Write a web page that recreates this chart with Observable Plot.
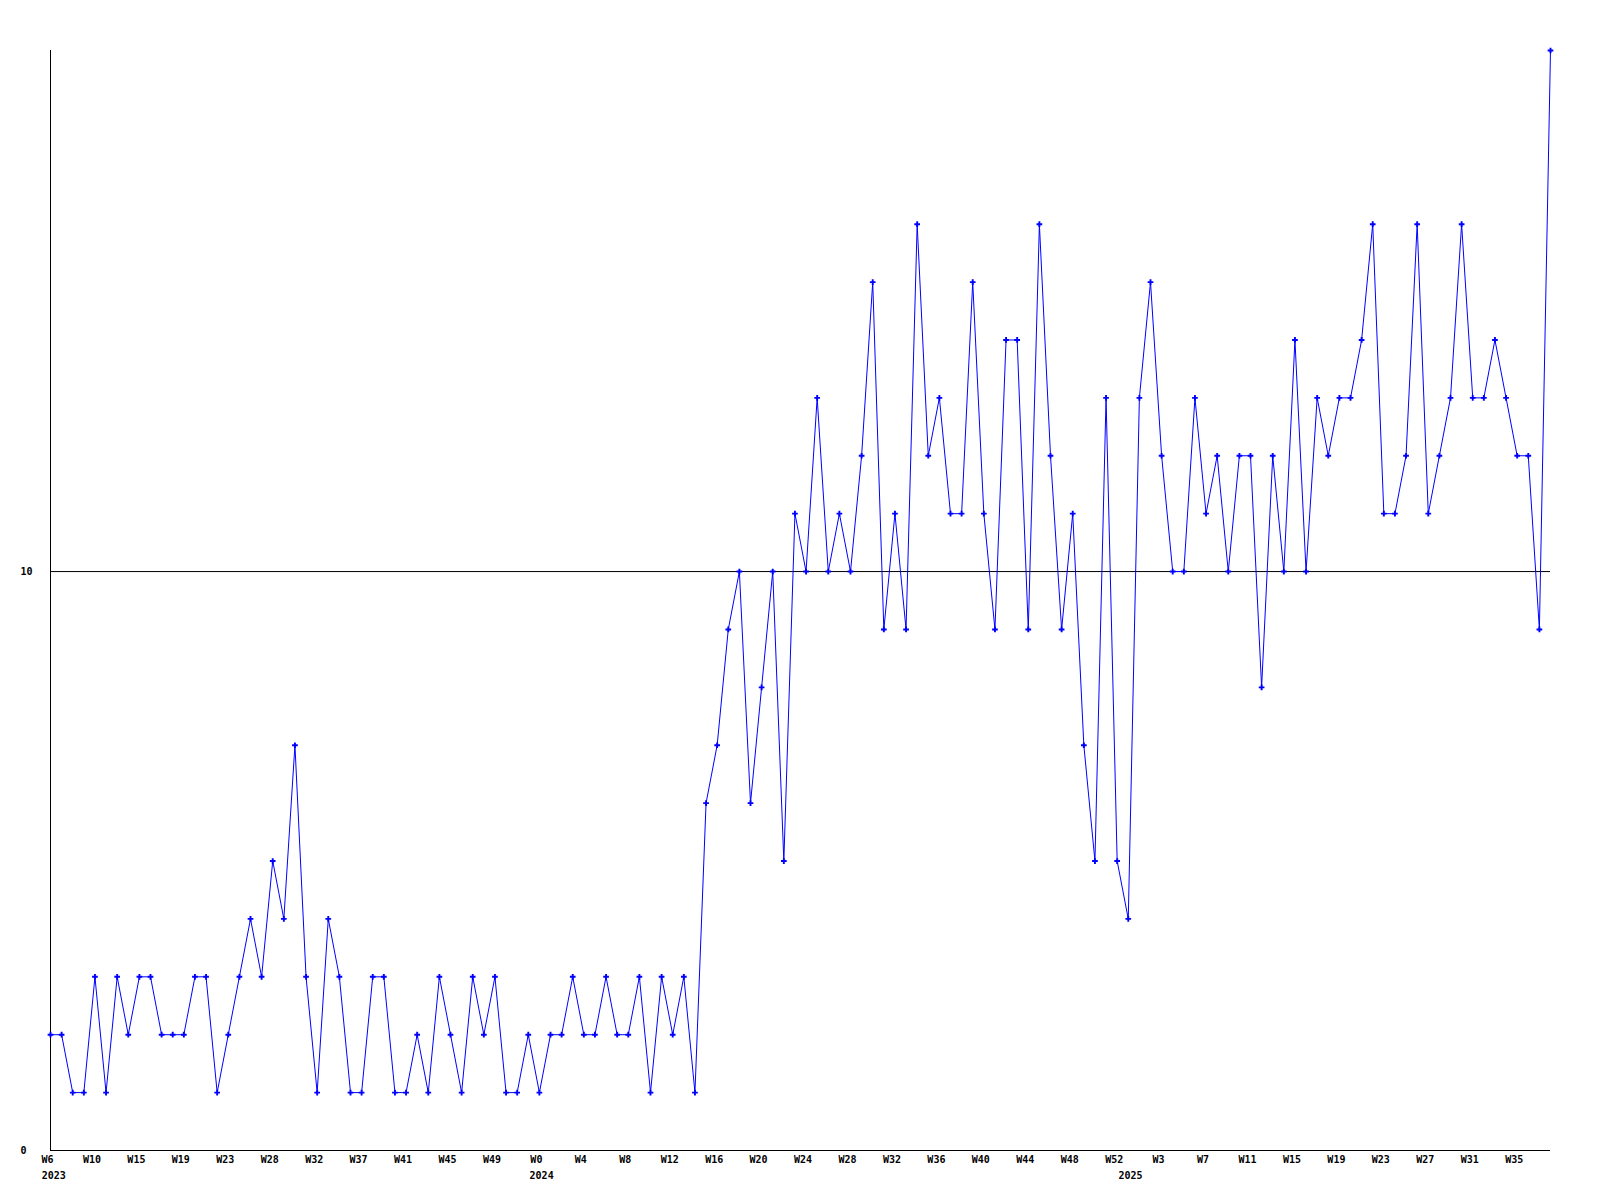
<!DOCTYPE html>
<html>
<head>
<meta charset="utf-8">
<script src="https://cdn.jsdelivr.net/npm/d3@7"></script>
<script src="https://cdn.jsdelivr.net/npm/@observablehq/plot@0.6"></script>
<style>
  html, body { margin: 0; padding: 0; background: #ffffff; }
</style>
</head>
<body>
<div id="chart"></div>
<script>
// Weekly values, W6 2023 .. W36 2025
const values = [
  2,2,1,1,3,1,3,2,3,3,2,2,2,3,3,1,2,3,4,3,5,4,7,3,1,4,3,1,1,3,
  3,1,1,2,1,3,2,1,3,2,3,1,1,2,1,2,2,3,2,2,3,2,2,3,1,3,2,3,1,6,
  7,9,10,6,8,10,5,11,10,13,10,11,10,12,15,9,11,9,16,12,13,11,11,15,11,9,14,14,9,16,
  12,9,11,7,5,13,5,4,13,15,12,10,10,13,11,12,10,12,12,8,12,10,14,10,13,12,13,13,14,16,
  11,11,12,16,11,12,13,16,13,13,14,13,12,12,9,19
];

// Week tick labels, one every 4th point
const weekLabels = [
  "W6","W10","W15","W19","W23","W28","W32","W37","W41","W45","W49",
  "W0","W4","W8","W12","W16","W20","W24","W28","W32","W36","W40","W44","W48","W52",
  "W3","W7","W11","W15","W19","W23","W27","W31","W35"
];
const weekTickStep = 4;

// Year labels and their positions (in point index units)
const yearLabels = ["2023", "2024", "2025"];
const yearPositions = [0.3, 44.2, 97.2];

// Y tick labels
const yTicks = [0, 10];
const yMax = 19;

const data = values.map((v, i) => ({ i, v }));
const weekTicks = weekLabels.map((label, k) => ({ pos: k * weekTickStep, label }));
const years = yearLabels.map((label, k) => ({ pos: yearPositions[k], label }));

const chart = Plot.plot({
  width: 1600,
  height: 1200,
  marginLeft: 50,
  marginRight: 50,
  marginTop: 50,
  marginBottom: 50,
  style: {
    fontFamily: "'DejaVu Sans Mono', monospace",
    fontSize: "10px",
    fontWeight: "bold",
    background: "#ffffff",
    color: "#000000"
  },
  x: { domain: [0, values.length - 1], axis: null },
  y: { domain: [0, yMax], axis: null },
  marks: [
    Plot.ruleY([10], { stroke: "#000000", strokeWidth: 1 }),
    Plot.ruleY([0], { stroke: "#000000", strokeWidth: 1 }),
    Plot.ruleX([0], { stroke: "#000000", strokeWidth: 1 }),
    Plot.line(data, { x: "i", y: "v", stroke: "#0000ff", strokeWidth: 1 }),
    Plot.dot(data, { x: "i", y: "v", symbol: "cross", r: 2.4, fill: "#0000ff", stroke: "none" }),
    Plot.text(weekTicks, { x: "pos", text: "label", frameAnchor: "bottom", dy: 12, dx: -3, fill: "#000000" }),
    Plot.text(years, { x: "pos", text: "label", frameAnchor: "bottom", dy: 28, fill: "#000000" }),
    Plot.text(yTicks, { y: d => d, text: d => String(d), frameAnchor: "left", dx: -30, textAnchor: "start", fill: "#000000" })
  ]
});

document.getElementById("chart").appendChild(chart);
</script>
</body>
</html>
